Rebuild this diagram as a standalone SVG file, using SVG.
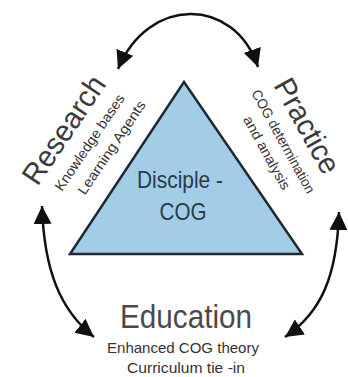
<svg xmlns="http://www.w3.org/2000/svg" width="348" height="377" viewBox="0 0 348 377">
<defs>
<marker id="ah" markerUnits="userSpaceOnUse" markerWidth="20" markerHeight="20" refX="18" refY="9" orient="auto-start-reverse" viewBox="0 0 20 20">
<path d="M0,0 L18,9 L0,18 z" fill="#111"/>
</marker>
<style>
.t{font-family:"Liberation Sans",Arial,sans-serif;}
.big{font-size:30px;fill:#3a3a3a;}
.sub{font-size:14px;fill:#333;}
.arc{fill:none;stroke:#111;stroke-width:2.5;marker-start:url(#ah);marker-end:url(#ah);}
</style>
</defs>
<rect width="348" height="377" fill="#fff"/>
<g id="connectors">
<path class="arc" d="M118,69 C148,-4 234,-4 258,67"/>
<path class="arc" d="M42,206 C44,270 60,310 94,337"/>
<path class="arc" d="M339,212 C337,275 322,312 285,337"/>
</g>
<g id="disciple-cog">
<polygon points="184,82 70,254 302,254" fill="#a3cde6" stroke="#1d2a33" stroke-width="2.5" stroke-linejoin="miter"/>
<text class="t" x="180" y="188" font-size="24" fill="#2a3a48" text-anchor="middle" textLength="86" lengthAdjust="spacingAndGlyphs">Disciple -</text>
<text class="t" x="183" y="220" font-size="24" fill="#2a3a48" text-anchor="middle" textLength="47" lengthAdjust="spacingAndGlyphs">COG</text>
</g>
<g id="research" transform="translate(64,130) rotate(-56)">
<text class="t big" x="0" y="10" text-anchor="middle" textLength="124" lengthAdjust="spacingAndGlyphs">Research</text>
<text class="t sub" x="4" y="33" text-anchor="middle" textLength="113" lengthAdjust="spacingAndGlyphs">Knowledge bases</text>
<text class="t sub" x="12" y="54" text-anchor="middle" textLength="110" lengthAdjust="spacingAndGlyphs">Learning Agents</text>
</g>
<g id="practice" transform="translate(307,126) rotate(61)">
<text class="t big" x="0" y="10" text-anchor="middle" textLength="104" lengthAdjust="spacingAndGlyphs">Practice</text>
<text class="t sub" x="2" y="33" text-anchor="middle" textLength="116" lengthAdjust="spacingAndGlyphs">COG determination</text>
<text class="t sub" x="4" y="53" text-anchor="middle" textLength="82" lengthAdjust="spacingAndGlyphs">and analysis</text>
</g>
<g id="education">
<text class="t" x="186" y="328" font-size="34" fill="#4a4a4a" text-anchor="middle" textLength="132" lengthAdjust="spacingAndGlyphs">Education</text>
<text class="t" x="183" y="353" font-size="15" fill="#333" text-anchor="middle" textLength="152" lengthAdjust="spacingAndGlyphs">Enhanced COG theory</text>
<text class="t" x="186" y="373" font-size="15" fill="#333" text-anchor="middle" textLength="118" lengthAdjust="spacingAndGlyphs">Curriculum tie -in</text>
</g>
</svg>
